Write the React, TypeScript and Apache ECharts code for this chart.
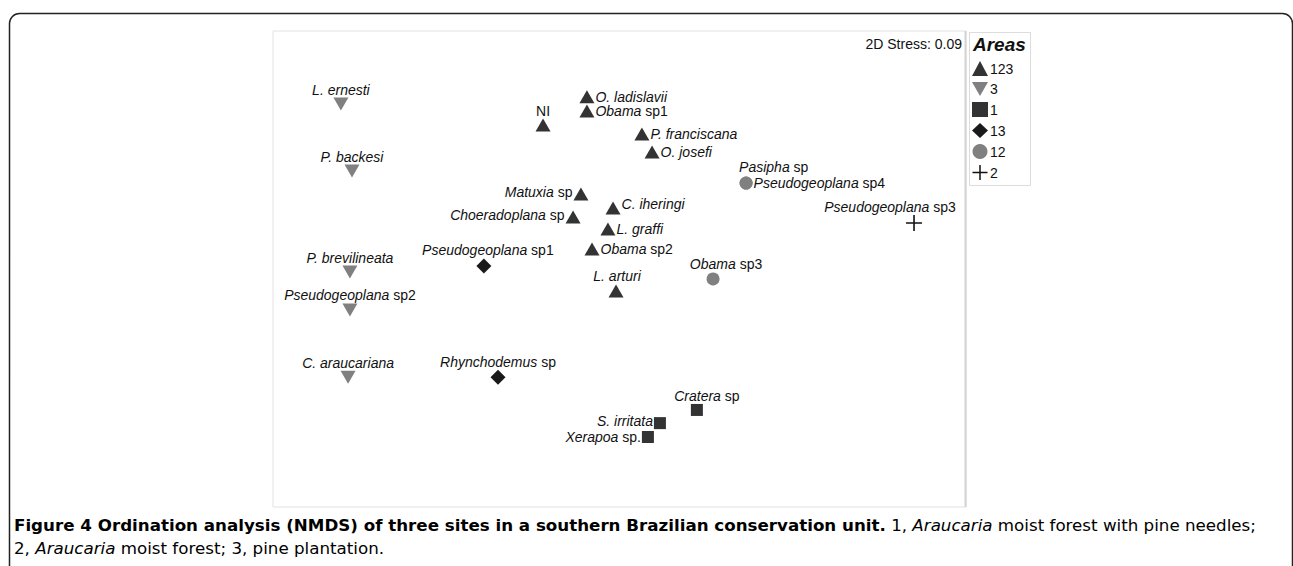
import React, { useEffect, useRef } from 'react';
import * as echarts from 'echarts';

// NMDS coordinates: [axis 1, axis 2, species]
const area123: [number, number, string][] = [
  [-0.141, 0.745, 'O. ladislavii'],
  [-0.141, 0.684, 'Obama sp1'],
  [-0.331, 0.623, 'NI'],
  [0.097, 0.584, 'P. franciscana'],
  [0.141, 0.506, 'O. josefi'],
  [-0.167, 0.325, 'Matuxia sp'],
  [-0.028, 0.264, 'C. iheringi'],
  [-0.201, 0.225, 'Choeradoplana sp'],
  [-0.05, 0.173, 'L. graffi'],
  [-0.119, 0.087, 'Obama sp2'],
  [-0.015, -0.095, 'L. arturi'],
];
const area3: [number, number, string][] = [
  [-1.206, 0.714, 'L. ernesti'],
  [-1.158, 0.424, 'P. backesi'],
  [-1.167, -0.013, 'P. brevilineata'],
  [-1.167, -0.177, 'Pseudogeoplana sp2'],
  [-1.175, -0.468, 'C. araucariana'],
];
const area1: [number, number, string][] = [
  [0.335, -0.61, 'Cratera sp'],
  [0.175, -0.667, 'S. irritata'],
  [0.123, -0.727, 'Xerapoa sp.'],
];
const area13: [number, number, string][] = [
  [-0.587, 0.013, 'Pseudogeoplana sp1'],
  [-0.526, -0.468, 'Rhynchodemus sp'],
];
const area12: [number, number, string][] = [
  [0.548, 0.372, 'Pasipha sp'],
  [0.548, 0.372, 'Pseudogeoplana sp4'],
  [0.405, -0.043, 'Obama sp3'],
];
const area2: [number, number, string][] = [[1.275, 0.199, 'Pseudogeoplana sp3']];

const areaNames = ['123', '3', '1', '13', '12', '2'];
const stressText = '2D Stress: 0.09';

// label placement (style only)
const placement: Record<string, { position: any; offset?: number[]; align?: string }> = {
  'O. ladislavii': { position: 'right' },
  'Obama sp1': { position: 'right' },
  NI: { position: 'top' },
  'P. franciscana': { position: 'right' },
  'O. josefi': { position: 'right' },
  'Matuxia sp': { position: 'left', offset: [0, -2] },
  'C. iheringi': { position: 'right', offset: [0, -4] },
  'Choeradoplana sp': { position: 'left', offset: [0, -2] },
  'L. graffi': { position: 'right' },
  'Obama sp2': { position: 'right' },
  'L. arturi': { position: 'top', offset: [1, 0] },
  'L. ernesti': { position: 'top' },
  'P. backesi': { position: 'top' },
  'P. brevilineata': { position: 'top' },
  'Pseudogeoplana sp2': { position: 'top' },
  'C. araucariana': { position: 'top' },
  'Cratera sp': { position: 'top', offset: [10, 0] },
  'S. irritata': { position: 'left', offset: [0, -2] },
  'Xerapoa sp.': { position: 'left' },
  'Pseudogeoplana sp1': { position: 'top', offset: [4, 0] },
  'Rhynchodemus sp': { position: 'top' },
  'Pasipha sp': { position: 'top', offset: [-7, -2], align: 'left' },
  'Pseudogeoplana sp4': { position: 'right' },
  'Obama sp3': { position: 'top', offset: [13, 0] },
  'Pseudogeoplana sp3': { position: 'top', offset: [-24, 0] },
};

function fmtName(n: string): string {
  if (n === 'NI') return '{n|NI}';
  const m = n.match(/^(.*?)( sp\S*)$/);
  if (m) return `{i|${m[1]}}{n|${m[2]}}`;
  return `{i|${n}}`;
}

const DARK = '#333333';
const GRAY = '#808080';
const FONT = 'Liberation Sans, Arial, sans-serif';
const LFS = 14;
const CAP_FONT = 'DejaVu Sans, sans-serif';
const CFS = 16.7;
const CAP_COL = '#231f20';

function makeSeries(name: string, pts: [number, number, string][], symbol: string, size: any, color: string) {
  return {
    type: 'scatter',
    name,
    symbol,
    symbolSize: size,
    itemStyle: { color, opacity: 1 },
    silent: true,
    label: {
      show: true,
      distance: 1,
      color: '#111',
      fontSize: LFS,
      fontFamily: FONT,
      formatter: (p: any) => fmtName(p.name),
      rich: {
        i: { fontStyle: 'italic', fontSize: LFS, fontFamily: FONT, color: '#111' },
        n: { fontSize: LFS, fontFamily: FONT, color: '#111' },
      },
    },
    data: pts.map(([x, y, n]) => {
      const pl = placement[n] || { position: 'right' };
      const label: any = { position: pl.position };
      if (pl.offset) label.offset = pl.offset;
      if (pl.align) label.align = pl.align;
      return { value: [x, y], name: n, label };
    }),
  };
}

const DOWN_TRI = 'path://M0,0L16,0L8,14Z';
const PLUS = 'path://M7.2,0H8.8V16H7.2ZM0,7.2H16V8.8H0Z';

export default function App() {
  const ref = useRef<HTMLDivElement>(null);
  useEffect(() => {
    document.body.style.margin = '0';
    const chart = echarts.init(ref.current!, null, { renderer: 'svg' });
    const capRich = {
      b: { fontWeight: 'bold', fontSize: CFS, lineHeight: 20, fontFamily: CAP_FONT, color: CAP_COL },
      r: { fontSize: CFS, lineHeight: 20, fontFamily: CAP_FONT, color: CAP_COL },
      ri: { fontSize: CFS, lineHeight: 20, fontStyle: 'italic', fontFamily: CAP_FONT, color: CAP_COL },
    };
    const option: any = {
      animation: false,
      backgroundColor: '#ffffff',
      grid: {
        left: 273,
        top: 31,
        width: 693,
        height: 476,
        show: true,
        borderColor: '#e2e2e2',
        borderWidth: 1,
        backgroundColor: 'transparent',
      },
      xAxis: { type: 'value', min: -1.5, max: 1.5, show: false },
      yAxis: { type: 'value', min: -1.03, max: 1.03, show: false },
      legend: {
        data: areaNames,
        orient: 'vertical',
        left: 972,
        top: 61,
        itemWidth: 16,
        itemHeight: 15,
        itemGap: 6,
        padding: 0,
        selectedMode: false,
        textStyle: { fontSize: 14, color: '#111', fontFamily: FONT, padding: [0, 0, 0, -3] },
      },
      series: [
        makeSeries('123', area123, 'triangle', [15, 13], DARK),
        makeSeries('3', area3, DOWN_TRI, [15, 13], GRAY),
        makeSeries('1', area1, 'rect', 12, DARK),
        makeSeries('13', area13, 'diamond', 15, '#1a1a1a'),
        makeSeries('12', area12, 'circle', 13, GRAY),
        makeSeries('2', area2, PLUS, 16, '#111'),
      ],
      graphic: [
        {
          type: 'rect',
          shape: { x: 9.5, y: 13.5, width: 1283, height: 620, r: 10 },
          style: { fill: 'none', stroke: '#222', lineWidth: 1.5 },
          silent: true,
        },
        {
          type: 'line',
          shape: { x1: 965.5, y1: 31, x2: 965.5, y2: 507 },
          style: { stroke: '#d4d4d4', lineWidth: 2 },
          silent: true,
        },
        {
          type: 'rect',
          shape: { x: 969.5, y: 32.5, width: 61, height: 153 },
          style: { fill: 'none', stroke: '#dcdcdc', lineWidth: 1 },
          silent: true,
        },
        {
          type: 'text',
          x: 962,
          y: 44,
          style: {
            text: stressText,
            fill: '#111',
            font: `14px ${FONT}`,
            textAlign: 'right',
            textVerticalAlign: 'middle',
          },
          silent: true,
        },
        {
          type: 'text',
          x: 973,
          y: 44,
          style: {
            text: 'Areas',
            fill: '#111',
            font: `italic bold 19px ${FONT}`,
            textAlign: 'left',
            textVerticalAlign: 'middle',
          },
          silent: true,
        },
        {
          type: 'text',
          x: 14,
          y: 525,
          style: {
            text:
              '{b|Figure 4 Ordination analysis (NMDS) of three sites in a southern Brazilian conservation unit.}{r| 1, }{ri|Araucaria}{r| moist forest with pine needles;}',
            textVerticalAlign: 'middle',
            rich: capRich,
          },
          silent: true,
        },
        {
          type: 'text',
          x: 14,
          y: 548,
          style: {
            text: '{r|2, }{ri|Araucaria}{r| moist forest; 3, pine plantation.}',
            textVerticalAlign: 'middle',
            rich: capRich,
          },
          silent: true,
        },
      ],
    };
    chart.setOption(option);
    return () => chart.dispose();
  }, []);
  return <div ref={ref} style={{ width: 1293, height: 566 }} />;
}
